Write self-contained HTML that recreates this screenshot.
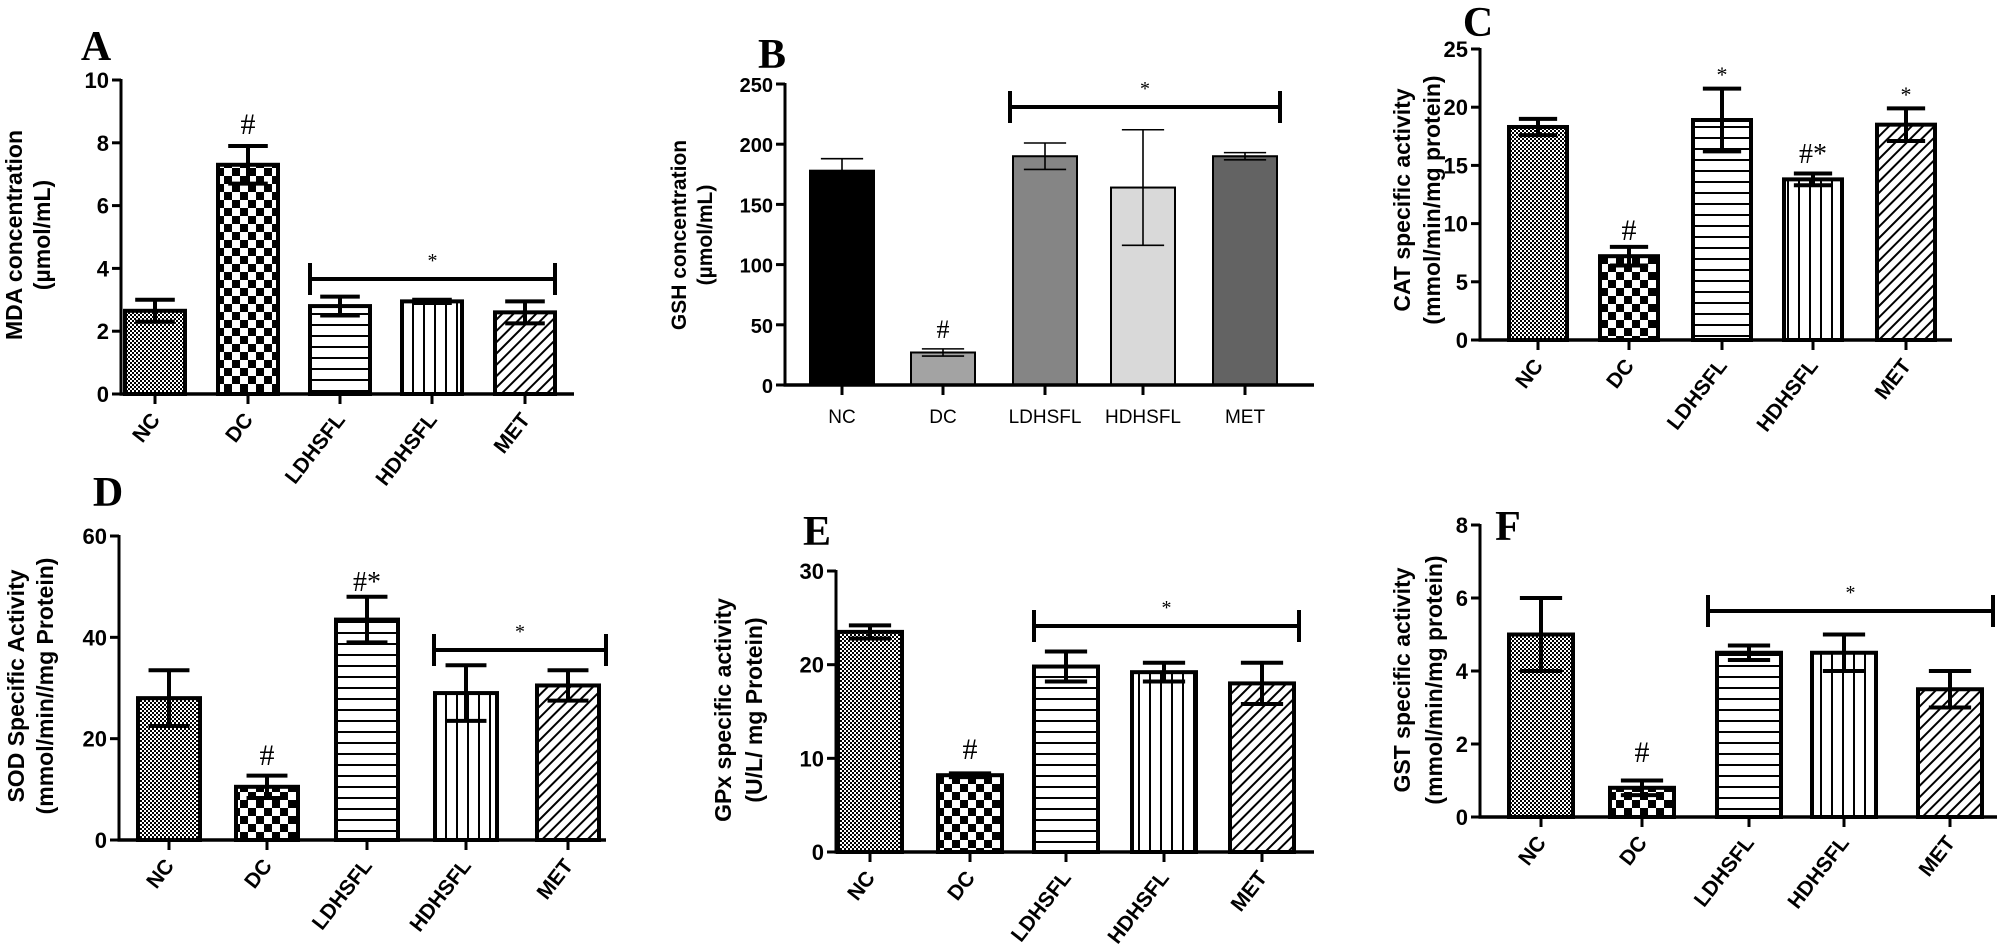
<!DOCTYPE html>
<html><head><meta charset="utf-8"><style>
html,body{margin:0;padding:0;background:#fff}
svg{display:block}
text{font-family:"Liberation Sans",Arial,sans-serif;font-weight:bold;fill:#000}
.t{font-family:"Liberation Serif",serif;font-size:42px}
</style></head><body>
<svg id="s" width="2001" height="944" viewBox="0 0 2001 944" xmlns="http://www.w3.org/2000/svg">
<defs>
<pattern id="pNC" width="4" height="4" patternUnits="userSpaceOnUse"><rect width="4" height="4" fill="#fff"/><rect width="2" height="2" fill="#000"/><rect x="2" y="2" width="2" height="2" fill="#000"/></pattern>
<pattern id="pDC" width="16" height="16" patternUnits="userSpaceOnUse"><rect width="16" height="16" fill="#fff"/><rect width="8" height="8" fill="#000"/><rect x="8" y="8" width="8" height="8" fill="#000"/></pattern>
<pattern id="pLDHSFL" width="10" height="11" patternUnits="userSpaceOnUse"><rect width="10" height="11" fill="#fff"/><rect y="5" width="10" height="2" fill="#000"/></pattern>
<pattern id="pHDHSFL" width="11" height="10" patternUnits="userSpaceOnUse"><rect width="11" height="10" fill="#fff"/><rect x="5" width="2" height="10" fill="#000"/></pattern>
<pattern id="pMET" width="8" height="8" patternUnits="userSpaceOnUse" patternTransform="rotate(45)"><rect width="8" height="8" fill="#fff"/><rect width="2" height="8" fill="#000"/></pattern>
</defs>
<g id="g"></g>
</svg>
<script>
var NS="http://www.w3.org/2000/svg",G=document.getElementById('g');
function el(t,a,txt){var e=document.createElementNS(NS,t);for(var k in a)e.setAttribute(k,a[k]);if(txt!=null)e.textContent=txt;G.appendChild(e);return e;}
function line(x1,y1,x2,y2,w){el('line',{x1:x1,y1:y1,x2:x2,y2:y2,stroke:'#000','stroke-width':w||3});}
var names=['NC','DC','LDHSFL','HDHSFL','MET'];
function panel(p){
  var sc=(p.y0-p.yTop)/p.max;
  function Y(v){return p.y0-v*sc;}
  for(var i=0;i<5;i++){
    var c=p.cx[i],w=p.bw,v=p.v[i],e=p.e[i];
    var fill=p.fills?p.fills[i]:'url(#p'+names[i]+')';
    var sw=p.thin?2:4;
    el('rect',{x:c-w/2,y:Y(v),width:w,height:p.y0-Y(v),fill:fill,stroke:'#000','stroke-width':sw});
    var ew=p.thin?1.6:4,cap=w*0.33;
    line(c,Y(v-e),c,Y(v+e),ew);
    line(c-cap,Y(v+e),c+cap,Y(v+e),ew);
    line(c-cap,Y(v-e),c+cap,Y(v-e),ew);
  }
  line(p.ax,p.yTop-1,p.ax,p.y0+1.5,3);
  line(p.ax-1.5,p.y0,p.xEnd,p.y0,3.5);
  for(var t=0;t<=p.max;t+=p.step){
    line(p.ax-9,Y(t),p.ax,Y(t),3);
    el('text',{x:p.ax-12,y:Y(t)+8,'text-anchor':'end','font-size':p.fs||22},String(t));
  }
  for(var i=0;i<5;i++){
    line(p.cx[i],p.y0,p.cx[i],p.y0+10,3);
    if(p.horiz){el('text',{x:p.cx[i],y:p.y0+38,'text-anchor':'middle','font-size':19,style:'font-weight:normal'},names[i]);}
    else{var tx=p.cx[i]+6,ty=p.y0+26;el('text',{x:tx,y:ty,'text-anchor':'end','font-size':21,transform:'rotate(-52 '+tx+' '+ty+')'},names[i]);}
  }
  el('text',{x:0,y:0,'text-anchor':'middle','font-size':p.lfs||23,transform:'translate('+p.l1x+' '+p.ly+') rotate(-90)'},p.l1);
  el('text',{x:0,y:0,'text-anchor':'middle','font-size':p.lfs||23,transform:'translate('+p.l2x+' '+p.ly+') rotate(-90)'},p.l2);
  el('text',{x:p.tx,y:p.ty,'class':'t','text-anchor':'middle'},p.title);
  (p.br||[]).forEach(function(b){
    line(b[0],b[2],b[1],b[2],4);line(b[0],b[2]-16,b[0],b[2]+16,4);line(b[1],b[2]-16,b[1],b[2]+16,4);
    el('text',{x:(b[0]+b[1])/2,y:b[2]-12,'text-anchor':'middle','font-size':20,style:'font-family:Liberation Serif;font-weight:normal'},'*');
  });
  (p.marks||[]).forEach(function(m){
    el('text',{x:m[0],y:m[1],'text-anchor':'middle','font-size':m[3]||30,style:'font-family:Liberation Serif;font-weight:normal'},m[2]);
  });
}
panel({ax:121,y0:394,yTop:80,max:10,step:2,xEnd:574,cx:[155,248,340,432,525],bw:60,
 v:[2.65,7.3,2.8,2.95,2.6],e:[0.35,0.6,0.3,0.05,0.35],l1:'MDA concentration',l2:'(µmol/mL)',l1x:22,l2x:50,ly:235,
 title:'A',tx:96,ty:60,br:[[310,555,279]],marks:[[248,134,'#']]});
panel({ax:785,y0:385,yTop:84,max:250,step:50,xEnd:1314,cx:[842,943,1045,1143,1245],bw:64,thin:true,horiz:true,
 fills:['#000','#a3a3a3','#858585','#d9d9d9','#636363'],
 v:[178,27,190,164,190],e:[10,3,11,48,3],l1:'GSH concentration',l2:'(µmol/mL)',l1x:686,l2x:712,ly:235,lfs:21,fs:20,
 title:'B',tx:772,ty:68,br:[[1010,1280,107]],marks:[[943,338,'#',26]]});
panel({ax:1480,y0:340,yTop:49,max:25,step:5,xEnd:1952,cx:[1538,1629,1722,1813,1906],bw:58,
 v:[18.3,7.2,18.9,13.8,18.5],e:[0.7,0.8,2.7,0.5,1.4],l1:'CAT specific activity',l2:'(mmol/min/mg protein)',l1x:1410,l2x:1440,ly:200,
 title:'C',tx:1478,ty:36,marks:[[1629,240,'#'],[1722,82,'*',22],[1906,102,'*',22],[1813,163,'#*',28]]});
panel({ax:119,y0:840,yTop:536,max:60,step:20,xEnd:606,cx:[169,267,367,466,568],bw:62,
 v:[28,10.5,43.5,29,30.5],e:[5.5,2.2,4.5,5.5,3],l1:'SOD Specific Activity',l2:'(mmol/min//mg Protein)',l1x:24,l2x:53,ly:686,
 title:'D',tx:108,ty:506,br:[[434,606,650]],marks:[[267,765,'#'],[367,591,'#*',28]]});
panel({ax:836,y0:852,yTop:571,max:30,step:10,xEnd:1314,cx:[870,970,1066,1164,1262],bw:64,
 v:[23.5,8.2,19.8,19.2,18],e:[0.7,0.2,1.6,1.0,2.2],l1:'GPx specific activity',l2:'(U/L/ mg Protein)',l1x:731,l2x:762,ly:710,
 title:'E',tx:817,ty:545,br:[[1034,1299,626]],marks:[[970,759,'#']]});
panel({ax:1480,y0:817,yTop:525,max:8,step:2,xEnd:1997,cx:[1541,1642,1749,1844,1950],bw:64,
 v:[5,0.8,4.5,4.5,3.5],e:[1,0.2,0.2,0.5,0.5],l1:'GST specific activity',l2:'(mmol/min/mg protein)',l1x:1410,l2x:1442,ly:680,
 title:'F',tx:1508,ty:540,br:[[1708,1993,611]],marks:[[1642,762,'#']]});
</script>
</body></html>
